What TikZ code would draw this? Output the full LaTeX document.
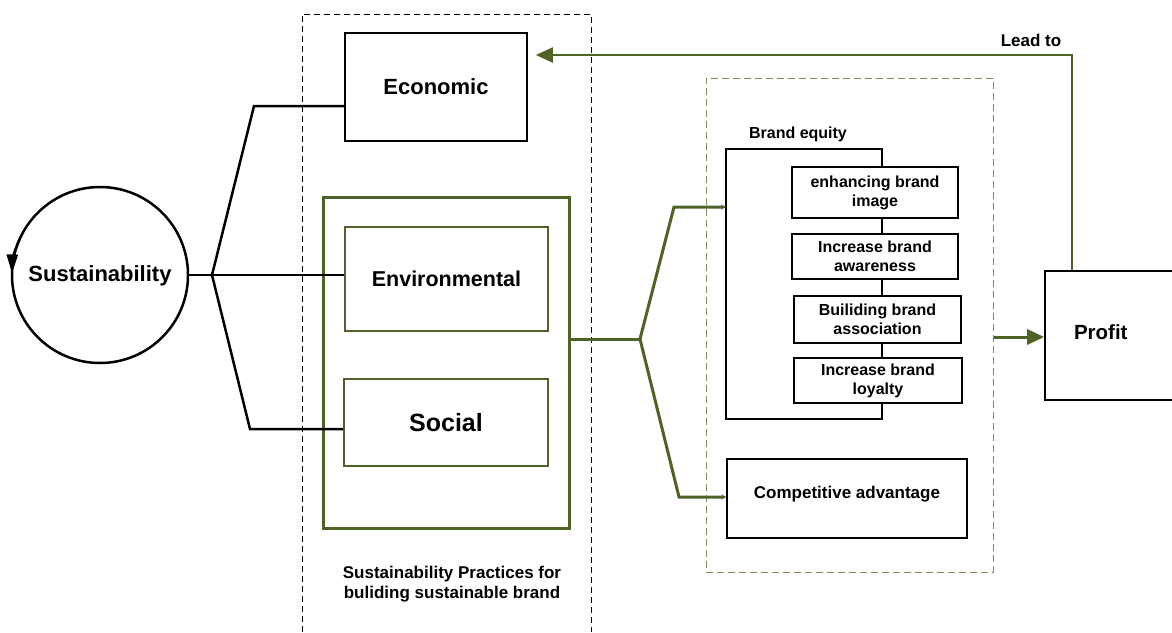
\documentclass[tikz,border=0pt]{standalone}
\usepackage{fontspec}
\setmainfont{Liberation Sans}
\usepackage{tikz}
\usetikzlibrary{shapes.geometric, arrows.meta, calc, positioning}
\definecolor{leafgreen}{RGB}{79,98,40}
\definecolor{fadegreen}{RGB}{125,140,95}
\tikzstyle{block} = [rectangle, line width=1.6pt, draw=black, inner sep=0pt, text centered, font=\fontsize{22}{26}\selectfont\bfseries]
\tikzstyle{greenblock} = [rectangle, line width=1.6pt, draw=leafgreen, inner sep=0pt, text centered, font=\fontsize{21.5}{25}\selectfont\bfseries]
\tikzstyle{stepbox} = [rectangle, line width=1.3pt, draw=black, inner sep=0pt, align=center, font=\fontsize{16}{19}\selectfont\bfseries]
\tikzstyle{plaintext} = [align=center, inner sep=0pt, font=\fontsize{17}{19.5}\selectfont\bfseries]
\tikzstyle{link} = [line width=2.5pt, draw=black]
\tikzstyle{frame} = [line width=1.6pt, draw=black]
\tikzstyle{glink} = [line width=3pt, draw=leafgreen]
\tikzstyle{arrow} = [-{Triangle[length=17pt,width=15pt]}]
\tikzstyle{smallarrow} = [-{Stealth[length=5pt,width=5pt]}]

\begin{document}
\begin{tikzpicture}[x=1pt, y=-1pt]
	\useasboundingbox (0,0) rectangle (1172,632);
	% left side
	\node (Sust) [circle, draw, line width=2.5pt, outer sep=0pt, minimum size=176pt, font=\fontsize{22}{26}\selectfont\bfseries, text depth=2pt] at (100,275) {Sustainability};
	\draw [line width=2.5pt, -{Triangle[length=19pt,width=11pt]}] (Sust.155) arc [start angle=205, end angle=181, radius=88];
	% practices
	\draw [line width=0.8pt, dash pattern=on 6pt off 4pt] (302,632) -- (302,14) -- (591,14) -- (591,632);
	\node (Economic) [block, minimum width=182pt, minimum height=108pt] at (436,87) {Economic};
	\node (Practices) [rectangle, draw=leafgreen, line width=3pt, minimum width=246pt, minimum height=331pt] at (446.5,362.5) {};
	\node (Environmental) [greenblock, minimum width=203pt, minimum height=104pt] at (446.5,279) {Environmental};
	\node (Social) [greenblock, minimum width=204pt, minimum height=87pt, font=\fontsize{25}{30}\selectfont\bfseries] at (446,422.5) {Social};
	\node (PracticesText) [plaintext] at (452,584) {Sustainability Practices for\\buliding sustainable brand};
	% brand side
	\node (Outcomes) [rectangle, draw=fadegreen, line width=1pt, dash pattern=on 7pt off 4pt, minimum width=287pt, minimum height=494pt] at (849.5,325) {};
	\node (EquityText) [plaintext, font=\fontsize{16}{19}\selectfont\bfseries] at (798,134) {Brand equity};
	\node (Equity) [rectangle, inner sep=0pt, outer sep=0pt, minimum width=156pt, minimum height=270pt] at (804,284) {};
	\node (Enhance) [stepbox, minimum width=166pt, minimum height=51pt] at (875,192.5) {enhancing brand\\image};
	\node (Awareness) [stepbox, minimum width=166pt, minimum height=45pt] at (875,256.5) {Increase brand\\awareness};
	\node (Association) [stepbox, minimum width=167pt, minimum height=47pt] at (877.5,319.5) {Builiding brand\\association};
	\node (Loyalty) [stepbox, minimum width=168pt, minimum height=45pt] at (878,380.5) {Increase brand\\loyalty};
	\node (Competitive) [stepbox, minimum width=240pt, minimum height=79pt, font=\fontsize{17}{20}\selectfont\bfseries, text depth=12pt] at (847,498.5) {Competitive advantage};
	\node (Profit) [block, minimum width=135pt, minimum height=129pt, font=\fontsize{20.5}{24}\selectfont\bfseries, text width=77pt, align=left, inner xsep=29pt, text depth=7pt] at (1112.5,335.5) {Profit};
	\node (LeadText) [plaintext] at (1031,40) {Lead to};
	% corners
	\coordinate (SustFork) at (212,275);
	\coordinate (EconBend) at (254,106);
	\coordinate (SocialBend) at (250,429);
	\coordinate (BrandFork) at (640,339);
	\coordinate (EquityBend) at (674,207);
	\coordinate (CompBend) at (679,497);
	\coordinate (ProfitLevel) at (0,337);
	\coordinate (LeadCorner) at (1072,55);
	% connectors
	\draw [link] (Sust) -- (SustFork);
	\draw [link] (SustFork) -- (EconBend) -- (Economic.west |- EconBend);
	\draw [link] (SustFork) -- (Environmental.west |- SustFork);
	\draw [link] (SustFork) -- (SocialBend) -- (Social.west |- SocialBend);
	\draw [frame] (Enhance.north -| Equity.east) -- (Equity.north east) -- (Equity.north west) -- (Equity.south west) -- (Equity.south east) -- (Loyalty.south -| Equity.east);
	\draw [frame] (Enhance.south -| Equity.east) -- (Awareness.north -| Equity.east);
	\draw [frame] (Awareness.south -| Equity.east) -- (Association.north -| Equity.east);
	\draw [frame] (Association.south -| Equity.east) -- (Loyalty.north -| Equity.east);
	\draw [glink] (Practices.east |- BrandFork) -- (BrandFork);
	\draw [glink, smallarrow] (BrandFork) -- (EquityBend) -- (Equity.west |- EquityBend);
	\draw [glink, smallarrow] (BrandFork) -- (CompBend) -- (Competitive.west |- CompBend);
	\draw [glink, arrow] (Outcomes.east |- ProfitLevel) -- (Profit.west |- ProfitLevel);
	\draw [line width=2pt, draw=leafgreen, arrow, shorten >=8pt] (Profit.north -| LeadCorner) |- (Economic.east |- LeadCorner);
\end{tikzpicture}
\end{document}
